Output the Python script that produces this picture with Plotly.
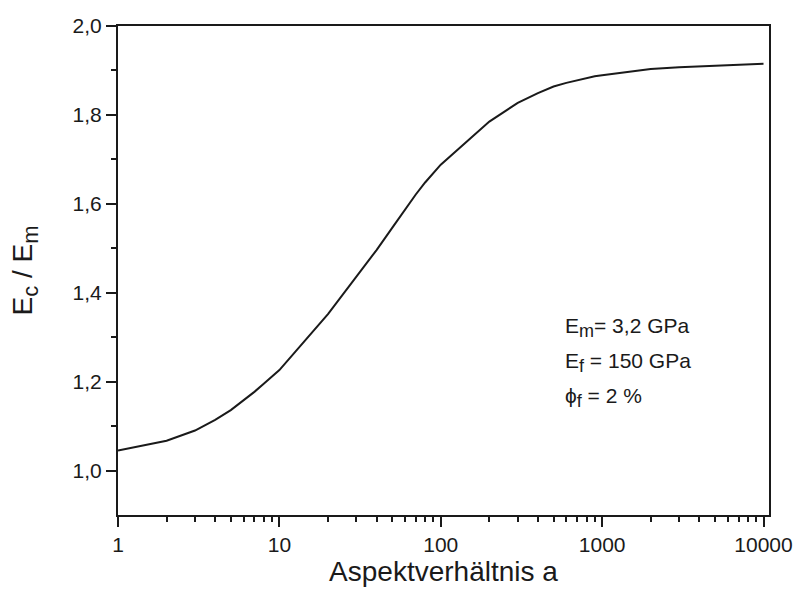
import plotly.graph_objects as go

# Aspect ratio of the fibres and the resulting relative composite modulus
aspect_ratio = [1, 2, 3, 4, 5, 6, 7, 8, 9,
                10, 20, 30, 40, 50, 60, 70, 80, 90,
                100, 200, 300, 400, 500, 600, 700, 800, 900,
                1000, 2000, 3000, 4000, 5000, 6000, 7000, 8000, 9000,
                10000]
modulus_ratio = [1.045, 1.067, 1.090, 1.114, 1.136, 1.158, 1.177, 1.195, 1.211,
                 1.226, 1.352, 1.436, 1.496, 1.546, 1.588, 1.621, 1.648, 1.670,
                 1.688, 1.785, 1.827, 1.849, 1.864, 1.872, 1.878, 1.883, 1.887,
                 1.889, 1.903, 1.907, 1.909, 1.911, 1.912, 1.913, 1.914, 1.914,
                 1.915]

x_major = [1, 10, 100, 1000, 10000]
x_major_labels = ["1", "10", "100", "1000", "10000"]
x_minor = [m * d for d in (1, 10, 100, 1000) for m in range(2, 10)]
y_major = [1.0, 1.2, 1.4, 1.6, 1.8, 2.0]
y_major_labels = ["1,0", "1,2", "1,4", "1,6", "1,8", "2,0"]
y_minor = [1.1, 1.3, 1.5, 1.7, 1.9]


def sub(s, size):
    return f"<sub><span style='font-size:{size}px'>{s}</span></sub>"


param_lines = ["E" + sub("m", 18) + "= 3,2 GPa",
               "E" + sub("f", 18) + " = 150 GPa",
               "ϕ" + sub("f", 18) + " = 2 %"]

FONT = "Liberation Sans, Arial, sans-serif"
INK = "#1a1a1a"

fig = go.Figure()
fig.add_trace(go.Scatter(
    x=aspect_ratio, y=modulus_ratio, mode="lines",
    line=dict(color=INK, width=2),
    showlegend=False, hoverinfo="skip",
))

axis_common = dict(
    showline=True, linecolor=INK, linewidth=2, mirror=True,
    showgrid=False, zeroline=False,
    ticks="outside", ticklen=10, tickwidth=2, tickcolor=INK,
    tickfont=dict(family=FONT, size=21, color=INK),
)

fig.update_xaxes(
    type="log", range=[0, 4.034],
    tickmode="array", tickvals=x_major, ticktext=x_major_labels,
    minor=dict(tickmode="array", tickvals=x_minor, ticks="outside",
               ticklen=5, tickwidth=2, tickcolor=INK, showgrid=False),
    title=dict(text="Aspektverhältnis a",
               font=dict(family=FONT, size=28, color=INK), standoff=6),
    **axis_common,
)
fig.update_yaxes(
    range=[0.9, 2.0],
    tickmode="array", tickvals=y_major, ticktext=y_major_labels,
    minor=dict(tickmode="array", tickvals=y_minor, ticks="outside",
               ticklen=5, tickwidth=2, tickcolor=INK, showgrid=False),
    title=dict(text="E" + sub("c", 22) + " / E" + sub("m", 22),
               font=dict(family=FONT, size=28, color=INK), standoff=32),
    **axis_common,
)

for i, txt in enumerate(param_lines):
    fig.add_annotation(
        xref="paper", yref="paper", x=0.683, y=0.383 - i * 0.0715,
        xanchor="left", yanchor="middle", showarrow=False,
        text=txt, font=dict(family=FONT, size=21, color=INK),
    )

fig.update_layout(
    width=805, height=594,
    margin=dict(l=118, r=30, t=26, b=77),
    paper_bgcolor="white", plot_bgcolor="white",
    font=dict(family=FONT, color=INK),
)

fig.write_html("out.html")
